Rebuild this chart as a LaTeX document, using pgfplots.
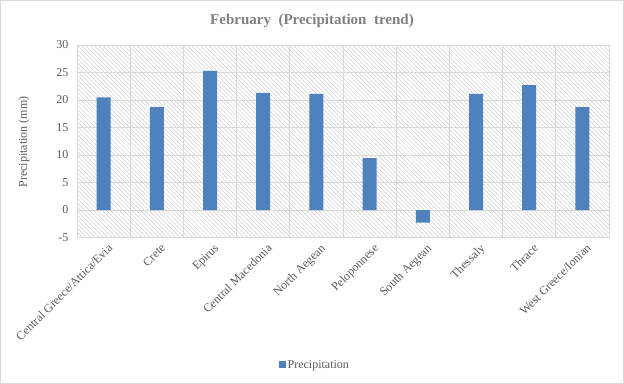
\documentclass[border=0pt]{standalone}
\usepackage{fontspec}
\setmainfont{Liberation Serif}
\usepackage{pgfplots}
\pgfplotsset{compat=1.18}
\usetikzlibrary{patterns.meta}
\definecolor{barblue}{HTML}{4F81BD}
\definecolor{gridgray}{HTML}{D9D9D9}
\definecolor{hatchgray}{HTML}{D0D0D0}
\definecolor{txtgray}{HTML}{595959}
\definecolor{titlegray}{HTML}{808080}
\begin{document}
\begin{tikzpicture}
\draw[gridgray, line width=1bp] (0.5bp,0.5bp) rectangle (623.5bp,383.5bp);
\node[font=\fontsize{15bp}{17bp}\selectfont\bfseries, text=titlegray] at (312bp,363bp) {February\ \ (Precipitation\ \ trend)};
\node[font=\fontsize{12bp}{14bp}\selectfont, text=txtgray, rotate=90] at (24bp,242bp) {Precipitation (mm)};
\begin{axis}[
  at={(77bp,146.5bp)}, anchor=south west,
  scale only axis, width=532bp, height=192.5bp,
  ybar, bar width=14bp,
  xmin=-0.5, xmax=9.5, ymin=-5, ymax=30,
  ytick={-5,0,...,30},
  xtick={0,...,9},
  xticklabels={Central Greece/Attica/Evia,Crete,Epirus,Central Macedonia,North Aegean,Peloponnese,South Aegean,Thessaly,Thrace,West Greece/Ionian},
  minor xtick={0.5,1.5,...,8.5},
  xminorgrids, ymajorgrids,
  grid style={draw=gridgray, line width=1bp},
  minor grid style={draw=gridgray, line width=1bp},
  axis line style={draw=gridgray, line width=1bp},
  major tick length=0pt, minor tick length=0pt,
  tick style={draw=none},
  /pgf/number format/assume math mode=true,
  ticklabel style={font=\fontsize{12bp}{14bp}\selectfont, text=txtgray},
  yticklabel style={xshift=-5bp},
  xticklabel style={rotate=45, anchor=north east, xshift=2bp, yshift=-3bp},
  axis background/.style={pattern={Lines[angle=-45,distance=3bp,line width=0.5bp]}, pattern color=hatchgray},
  legend style={at={(rel axis cs:0.447,-0.662)}, anchor=center, draw=none, fill=none,
    font=\fontsize{12bp}{14bp}\selectfont, text=txtgray},
  legend image code/.code={\fill[barblue] (0bp,-3.5bp) rectangle (7bp,3.5bp);},
]
\addplot[fill=barblue, draw=none] coordinates {
  (0,20.5) (1,18.7) (2,25.3) (3,21.3) (4,21.1)
  (5,9.45) (6,-2.3) (7,21.1) (8,22.7) (9,18.7)
};
\addlegendentry{Precipitation}
\end{axis}
\end{tikzpicture}
\end{document}
